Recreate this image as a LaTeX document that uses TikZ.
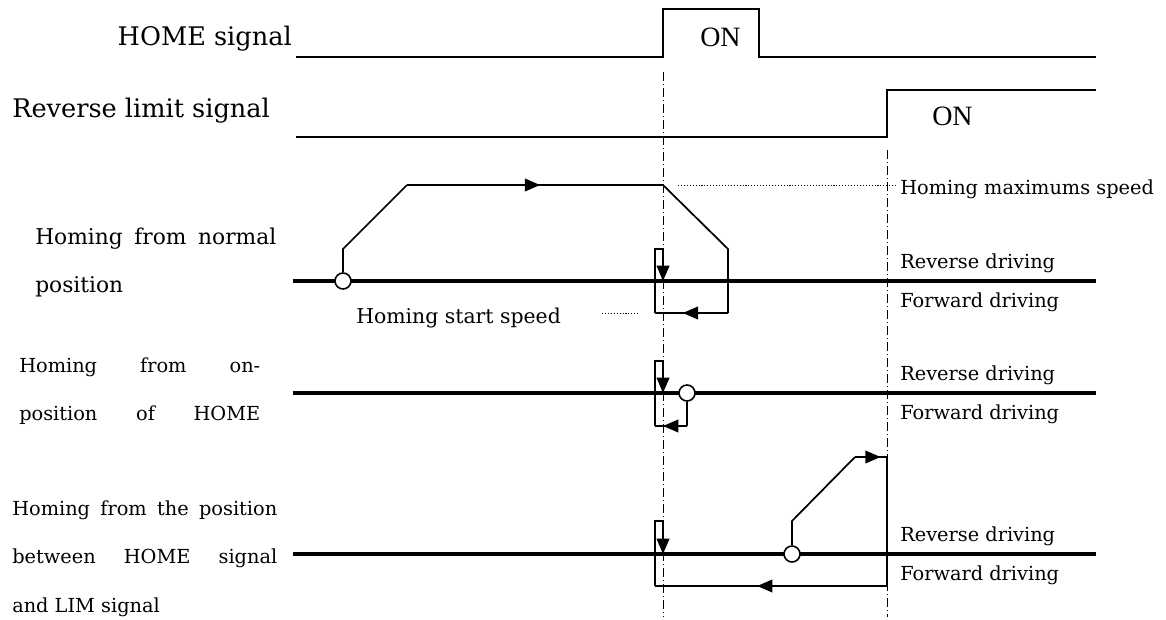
\documentclass[tikz,border=0pt]{standalone}
\usepackage{fontspec}
\setmainfont{DejaVu Serif}
\newfontfamily\onfont{Liberation Serif}
\usetikzlibrary{arrows.meta,decorations.markings}

% stretched label line
\newcommand{\spreadline}[2]{\makebox[#1][s]{#2}}

\begin{document}
\begin{tikzpicture}[x=0.75pt, y=-0.75pt, >={Triangle[length=11.5pt,width=9.5pt]},
        sig/.style={line width=1.3pt},
        axisline/.style={line width=3pt},
        guide/.style={line width=0.6pt, dash pattern=on 7pt off 2pt on 1pt off 2pt},
        leader/.style={line width=0.7pt, dash pattern=on 0.8pt off 1.4pt},
        route/.style={line width=1.3pt},
        midarrow/.style={postaction={decorate}, decoration={markings, mark=at position #1 with {\arrow{>}}}},
        startmark/.style={circle, draw, line width=1.2pt, fill=white, minimum size=12pt, inner sep=0pt},
        biglbl/.style={font=\fontsize{19.2}{22}\selectfont, inner sep=0pt},
        sidelbl/.style={font=\fontsize{14.5}{17}\selectfont, inner sep=0pt},
        leftlbl/.style={font=\fontsize{16.3}{19}\selectfont, inner sep=0pt},
        onlbl/.style={font=\onfont\fontsize{21}{24}\selectfont, inner sep=0pt}]

    \path[fill=white, use as bounding box] (0,0) rectangle (1166,619);

    % signals
    \node[biglbl, anchor=base east] (homesig) at (292,45) {HOME signal};
    \node[biglbl, anchor=base west] (limsig) at (12,117) {Reverse limit signal};
    \draw[sig] (296,57) -- (663,57) -- (663,9) -- (759,9) -- (759,57) -- (1096,57);
    \draw[sig] (296,137) -- (887,137) -- (887,90) -- (1096,90);
    \node[onlbl, anchor=base west] (homeon) at (700,46) {ON};
    \node[onlbl, anchor=base west] (limon) at (932,125) {ON};

    % guide lines
    \draw[guide] (663,72) -- (663,617);
    \draw[guide] (887,150) -- (887,617);

    % axes
    \draw[axisline] (293,281) -- (1096,281);
    \draw[axisline] (293,393) -- (1096,393);
    \draw[axisline] (293,554) -- (1096,554);

    % homing from normal position
    \node[startmark] (s1) at (343,281) {};
    \draw[route] (s1.north) -- (343,249) -- (407,185);
    \draw[route, midarrow=0.52] (407,185) -- (663,185);
    \draw[route] (663,185) -- (728,249) -- (728,313);
    \draw[route, midarrow=0.62] (728,313) -- (655,313);
    \draw[route] (655,313) -- (655,249) -- (663,249);
    \draw[route, ->] (663,249) -- (663,281);

    % homing from on-position of HOME
    \node[startmark] (s2) at (687,393) {};
    \draw[route] (s2.south) -- (687,426);
    \draw[route, midarrow=0.75] (687,426) -- (655,426);
    \draw[route] (655,426) -- (655,361) -- (663,361);
    \draw[route, ->] (663,361) -- (663,393);

    % homing between HOME and LIM
    \node[startmark] (s3) at (792,554) {};
    \draw[route] (s3.north) -- (792,521) -- (855,457);
    \draw[route, midarrow=0.8] (855,457) -- (887,457);
    \draw[route] (887,457) -- (887,586);
    \draw[route, midarrow=0.56] (887,586) -- (655,586);
    \draw[route] (655,586) -- (655,521) -- (663,521);
    \draw[route, ->] (663,521) -- (663,554);

    % speed labels
    \node[sidelbl, anchor=base west] (hmax) at (900,194) {Homing maximums speed};
    \draw[leader] (678,185) -- (897,185);
    \node[sidelbl, anchor=base west, font=\fontsize{15.3}{18}\selectfont] (hstart) at (356,323) {Homing start speed};
    \draw[leader] (602,313) -- (640,313);

    % direction labels
    \node[sidelbl, anchor=base west] (rev1) at (900,268) {Reverse driving};
    \node[sidelbl, anchor=base west] (fwd1) at (900,307) {Forward driving};
    \node[sidelbl, anchor=base west] (rev2) at (900,380) {Reverse driving};
    \node[sidelbl, anchor=base west] (fwd2) at (900,419) {Forward driving};
    \node[sidelbl, anchor=base west] (rev3) at (900,541) {Reverse driving};
    \node[sidelbl, anchor=base west] (fwd3) at (900,580) {Forward driving};

    % case labels
    \node[leftlbl, anchor=base west] (c1a) at (35,244) {\spreadline{180.75pt}{Homing from normal}};
    \node[leftlbl, anchor=base west] (c1b) at (35,292) {position};
    \node[sidelbl, anchor=base west] (c2a) at (19,372) {\spreadline{180.75pt}{Homing from on-}};
    \node[sidelbl, anchor=base west] (c2b) at (19,420) {\spreadline{180.75pt}{position of HOME}};
    \node[sidelbl, anchor=base west] (c3a) at (12,515) {\spreadline{198.75pt}{Homing from the position}};
    \node[sidelbl, anchor=base west] (c3b) at (12,563) {\spreadline{198.75pt}{between HOME signal}};
    \node[sidelbl, anchor=base west] (c3c) at (12,612) {and LIM signal};
\end{tikzpicture}
\end{document}
